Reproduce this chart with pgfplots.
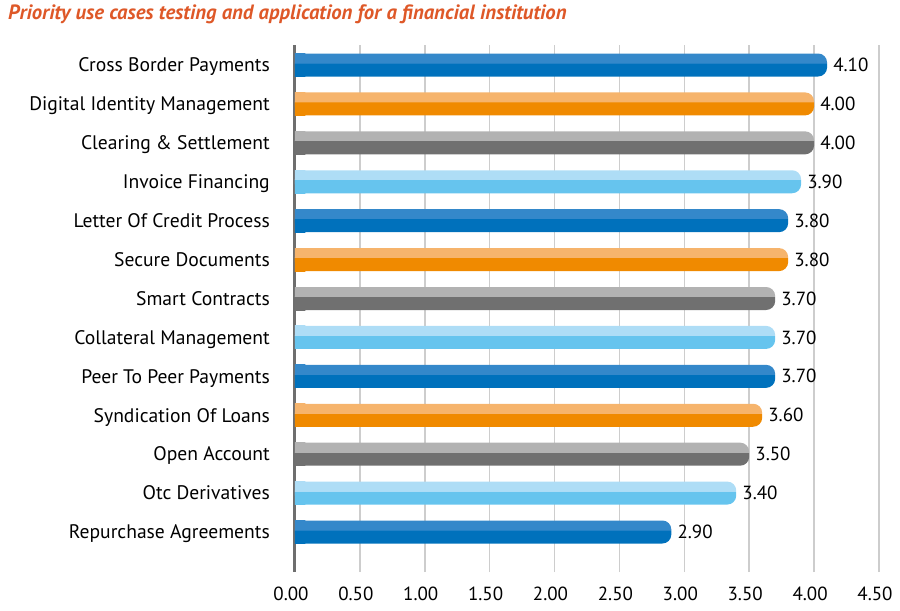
\documentclass[border=0pt]{standalone}
\usepackage{pgfplots}
\pgfplotsset{compat=1.18}
\usepackage{pgfplotstable}
\usepackage{fontspec}
\setmainfont{PT Sans}

\definecolor{blueD}{RGB}{0,113,188}
\definecolor{blueL}{RGB}{52,136,202}
\definecolor{orangeD}{RGB}{240,138,0}
\definecolor{orangeL}{RGB}{246,180,108}
\definecolor{grayD}{RGB}{112,112,112}
\definecolor{grayL}{RGB}{178,178,178}
\definecolor{skyD}{RGB}{102,196,238}
\definecolor{skyL}{RGB}{174,221,246}
\definecolor{titlecol}{RGB}{222,88,40}
\definecolor{gridcol}{RGB}{205,205,205}
\definecolor{axiscol}{RGB}{110,110,110}

% two-tone bars: darker lower part, lighter top band
\pgfdeclareverticalshading{bluebar}{100bp}{color(0bp)=(blueD); color(54bp)=(blueD); color(54.5bp)=(blueL); color(100bp)=(blueL)}
\pgfdeclareverticalshading{orangebar}{100bp}{color(0bp)=(orangeD); color(54bp)=(orangeD); color(54.5bp)=(orangeL); color(100bp)=(orangeL)}
\pgfdeclareverticalshading{graybar}{100bp}{color(0bp)=(grayD); color(54bp)=(grayD); color(54.5bp)=(grayL); color(100bp)=(grayL)}
\pgfdeclareverticalshading{skybar}{100bp}{color(0bp)=(skyD); color(54bp)=(skyD); color(54.5bp)=(skyL); color(100bp)=(skyL)}

% x = score, y = row (12 = top)
\pgfplotstableread{
x y
4.10 12
3.80 8
3.70 4
2.90 0
}\blueT
\pgfplotstableread{
x y
4.00 11
3.80 7
3.60 3
}\orangeT
\pgfplotstableread{
x y
4.00 10
3.70 6
3.50 2
}\grayT
\pgfplotstableread{
x y
3.90 9
3.70 5
3.40 1
}\skyT

\pgfplotsset{
  bar/.style={xbar, bar width=23pt, bar shift=0pt, draw=none, shade, shading=#1,
    rounded corners=9pt,
    nodes near coords={\pgfmathprintnumber[fixed,fixed zerofill,precision=2]{\pgfplotspointmeta}},
    nodes near coords align={horizontal},
    every node near coord/.append style={black, font=\fontsize{19}{20}\selectfont, inner sep=0pt, xshift=6pt}},
  % short square piece under the left end of the rounded bar
  cover/.style={xbar, bar width=23pt, bar shift=0pt, draw=none, shade, shading=#1, sharp corners},
}
% one bar per plot, so that the shading fits each bar
\newcommand{\bars}[3]{%
  \pgfplotsinvokeforeach{#3}{
    \addplot[cover=#2, restrict y to domain=##1:##1] table[x expr={min(\thisrow{x},0.08)}, y=y] {#1};
    \addplot[bar=#2, restrict y to domain=##1:##1] table[x=x, y=y] {#1};
  }}

\begin{document}
\begin{tikzpicture}
\begin{axis}[
  scale only axis,
  width=584pt, height=527pt,
  xmin=0, xmax=4.5,
  ymin=-1.028, ymax=12.514,
  axis lines*=left,
  x axis line style={draw=none},
  y axis line style={line width=3pt, axiscol},
  xtick={0,0.5,...,4.5},
  ytick={0,...,12},
  yticklabels={Repurchase Agreements, Otc Derivatives, Open Account, Syndication Of Loans, Peer To Peer Payments, Collateral Management, Smart Contracts, Secure Documents, Letter Of Credit Process, Invoice Financing, Clearing \& Settlement, Digital Identity Management, Cross Border Payments},
  major tick length=0pt,
  xmajorgrids,
  grid style={line width=1.5pt, gridcol},
  /pgf/number format/assume math mode=true,
  xticklabel={\pgfmathprintnumber[fixed,fixed zerofill,precision=2]{\tick}},
  tick label style={font=\fontsize{19}{20}\selectfont, black},
  xticklabel style={anchor=north, inner sep=0pt, yshift=-15pt, xshift=-4pt},
  yticklabel style={anchor=east, inner sep=0pt, xshift=-25pt, font=\fontsize{19.6}{20}\selectfont,
    text height=13.5pt, text depth=0pt},
  title={Priority use cases testing and application for a financial institution},
  title style={at={(-0.4914,1.0647)}, anchor=north west, inner sep=0pt, yshift=0pt,
    font=\fontsize{20.7}{22}\selectfont\bfseries\itshape, titlecol},
]
\bars{\blueT}{bluebar}{12,8,4,0}
\bars{\orangeT}{orangebar}{11,7,3}
\bars{\grayT}{graybar}{10,6,2}
\bars{\skyT}{skybar}{9,5,1}
\coordinate (bbsw) at (rel axis cs:-0.5051,-0.0721);
\coordinate (bbne) at (rel axis cs:1.0360,1.0854);
\end{axis}
\pgfresetboundingbox
\path[use as bounding box] (bbsw) rectangle (bbne);
\end{tikzpicture}
\end{document}
